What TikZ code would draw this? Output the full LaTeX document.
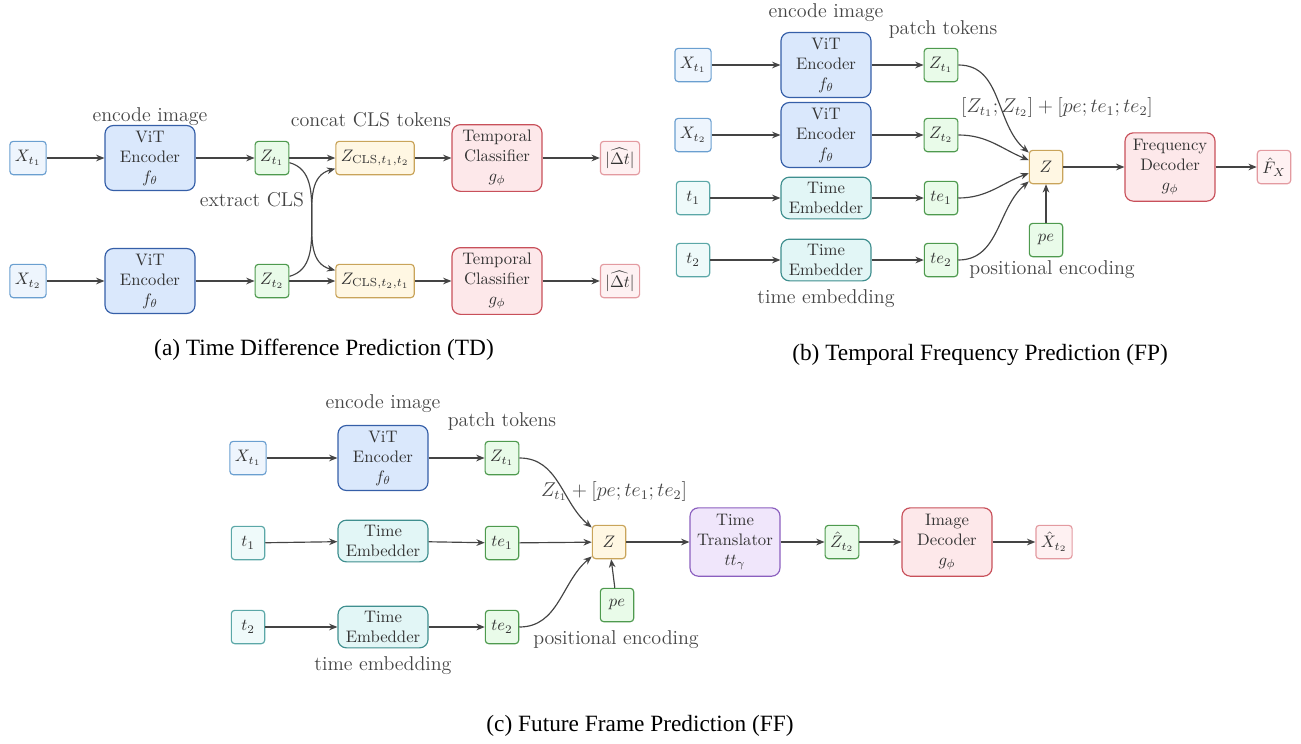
\documentclass[tikz,border=0pt]{standalone}
\usepackage{fontspec}
\newfontfamily\capfont{Liberation Serif}
\usetikzlibrary{arrows.meta}

\definecolor{txt}{HTML}{333333}
\definecolor{lin}{HTML}{444444}
\definecolor{inF}{HTML}{EEF5FD}\definecolor{inD}{HTML}{6A9FD0}
\definecolor{vitF}{HTML}{DAE8FC}\definecolor{vitD}{HTML}{355FA8}
\definecolor{tokF}{HTML}{E9FBE9}\definecolor{tokD}{HTML}{4E9A4E}
\definecolor{clsF}{HTML}{FFF7E3}\definecolor{clsD}{HTML}{C9A45A}
\definecolor{decF}{HTML}{FDE8EA}\definecolor{decD}{HTML}{C8505A}
\definecolor{outF}{HTML}{FEF1F2}\definecolor{outD}{HTML}{E39AA0}
\definecolor{tF}{HTML}{EFFAFA}\definecolor{tD}{HTML}{5BA7A7}
\definecolor{embF}{HTML}{E2F6F6}\definecolor{embD}{HTML}{3F8F8F}
\definecolor{trF}{HTML}{F0E6FB}\definecolor{trD}{HTML}{8B5FBF}

\begin{document}
\begin{tikzpicture}[x=0.6pt,y=-0.6pt,
    small/.style={draw, line width=0.7pt, rounded corners=2pt, minimum width=20pt,
        minimum height=20pt, inner sep=3pt, text=txt},
    large/.style={draw, line width=0.7pt, rounded corners=5pt, minimum width=54pt,
        align=center, inner sep=2pt, text=txt},
    inbox/.style={small, fill=inF, draw=inD},
    tokbox/.style={small, fill=tokF, draw=tokD},
    clsbox/.style={small, fill=clsF, draw=clsD},
    outbox/.style={small, fill=outF, draw=outD},
    tbox/.style={small, fill=tF, draw=tD},
    vitbox/.style={large, fill=vitF, draw=vitD, minimum height=39pt},
    decbox/.style={large, fill=decF, draw=decD, minimum height=40pt},
    embbox/.style={large, fill=embF, draw=embD, minimum height=25pt},
    trbox/.style={large, fill=trF, draw=trD, minimum height=41pt},
    lbl/.style={text=lin, font=\large},
    arr/.style={-{Stealth[length=5pt,width=4pt]}, line width=0.7pt, draw=lin}]
    \useasboundingbox (0,0) rectangle (1301,743);

    % (a) time difference
    \begin{scope}[shift={(28,0)}]
        \node[inbox] (xa) at (0,158) {$X_{t_1}$};
        \node[vitbox] (enca) at (122,158) {ViT\\Encoder\\$f_\theta$};
        \node[tokbox] (za) at (244,158) {$Z_{t_1}$};
        \node[clsbox] (clsa) at (347,158) {$Z_{\mathrm{CLS},t_1,t_2}$};
        \node[decbox] (tca) at (469,158) {Temporal\\Classifier\\$g_\phi$};
        \node[outbox] (oa) at (592,158) {$|\widehat{\Delta t}|$};

        \node[inbox] (xb) at (0,281) {$X_{t_2}$};
        \node[vitbox] (encb) at (122,281) {ViT\\Encoder\\$f_\theta$};
        \node[tokbox] (zb) at (244,281) {$Z_{t_2}$};
        \node[clsbox] (clsb) at (347,281) {$Z_{\mathrm{CLS},t_2,t_1}$};
        \node[decbox] (tcb) at (469,281) {Temporal\\Classifier\\$g_\phi$};
        \node[outbox] (ob) at (592,281) {$|\widehat{\Delta t}|$};

        \draw[arr] (xa)--(enca); \draw[arr] (enca)--(za); \draw[arr] (za)--(clsa);
        \draw[arr] (clsa)--(tca); \draw[arr] (tca)--(oa);
        \draw[arr] (xb)--(encb); \draw[arr] (encb)--(zb); \draw[arr] (zb)--(clsb);
        \draw[arr] (clsb)--(tcb); \draw[arr] (tcb)--(ob);
        \draw[arr] (za) to[out=-15,in=165] (clsb);
        \draw[arr] (zb) to[out=15,in=195] (clsa);

        \node[lbl] (la) at (122,117) {encode image};
        \node[lbl] (lb) at (343,120) {concat CLS tokens};
        \node[lbl] (lc) at (224,200) {extract CLS};
        \node[font=\capfont\fontsize{14}{16}\selectfont] (capa) at (296,350)
            {(a) Time Difference Prediction (TD)};
    \end{scope}

    % (b) frequency
    \begin{scope}[shift={(693,0)}]
        \node[inbox] (xa) at (0,65) {$X_{t_1}$};
        \node[vitbox] (enca) at (133,65) {ViT\\Encoder\\$f_\theta$};
        \node[tokbox] (za) at (248,65) {$Z_{t_1}$};
        \node[inbox] (xb) at (0,135) {$X_{t_2}$};
        \node[vitbox] (encb) at (133,135) {ViT\\Encoder\\$f_\theta$};
        \node[tokbox] (zb) at (248,135) {$Z_{t_2}$};
        \node[tbox] (ta) at (0,198) {$t_1$};
        \node[embbox] (emba) at (133,198) {Time\\Embedder};
        \node[tokbox] (tea) at (248,198) {$te_1$};
        \node[tbox] (tb) at (0,260) {$t_2$};
        \node[embbox] (embb) at (133,260) {Time\\Embedder};
        \node[tokbox] (teb) at (248,260) {$te_2$};
        \node[clsbox] (z) at (353,167) {$Z$};
        \node[tokbox] (pe) at (353,240) {$pe$};
        \node[decbox, minimum height=41pt] (fd) at (477,167) {Frequency\\Decoder\\$g_\phi$};
        \node[outbox] (fx) at (581,167) {$\hat{F}_X$};

        \draw[arr] (xa)--(enca); \draw[arr] (enca)--(za);
        \draw[arr] (xb)--(encb); \draw[arr] (encb)--(zb);
        \draw[arr] (ta)--(emba); \draw[arr] (emba)--(tea);
        \draw[arr] (tb)--(embb); \draw[arr] (embb)--(teb);
        \draw[arr] (za) to[out=0,in=140] (z);
        \draw[arr] (zb) to[out=0,in=158] (z);
        \draw[arr] (tea) to[out=0,in=200] (z);
        \draw[arr] (teb) to[out=0,in=220] (z);
        \draw[arr] (pe)--(z); \draw[arr] (z)--(fd); \draw[arr] (fd)--(fx);

        \node[lbl] (la) at (133,13) {encode image};
        \node[lbl] (lb) at (250,29) {patch tokens};
        \node[lbl] (lc) at (364,107) {$[Z_{t_1};Z_{t_2}]+[pe;te_1;te_2]$};
        \node[lbl] (ld) at (359,270) {positional encoding};
        \node[lbl] (le) at (133,299) {time embedding};
        \node[font=\capfont\fontsize{14}{16}\selectfont] (capb) at (287,355)
            {(b) Temporal Frequency Prediction (FP)};
    \end{scope}

    % (c) future frame
    \begin{scope}[shift={(248,0)}]
        \node[inbox] (xa) at (0,458) {$X_{t_1}$};
        \node[vitbox] (enca) at (135,458) {ViT\\Encoder\\$f_\theta$};
        \node[tokbox] (za) at (254,458) {$Z_{t_1}$};
        \node[tbox] (ta) at (0,543) {$t_1$};
        \node[embbox] (emba) at (135,541) {Time\\Embedder};
        \node[tokbox] (tea) at (254,543) {$te_1$};
        \node[tbox] (tb) at (0,627) {$t_2$};
        \node[embbox] (embb) at (135,627) {Time\\Embedder};
        \node[tokbox] (teb) at (254,627) {$te_2$};
        \node[clsbox] (z) at (361,542) {$Z$};
        \node[tokbox] (pe) at (369,605) {$pe$};
        \node[trbox] (tt) at (487,542) {Time\\Translator\\$tt_\gamma$};
        \node[tokbox] (zh) at (594,542) {$\hat{Z}_{t_2}$};
        \node[decbox, minimum height=41pt] (id) at (699,542) {Image\\Decoder\\$g_\phi$};
        \node[outbox] (xh) at (806,542) {$\hat{X}_{t_2}$};

        \draw[arr] (xa)--(enca); \draw[arr] (enca)--(za);
        \draw[arr] (ta)--(emba); \draw[arr] (emba)--(tea);
        \draw[arr] (tb)--(embb); \draw[arr] (embb)--(teb);
        \draw[arr] (za) to[out=0,in=140] (z);
        \draw[arr] (tea)--(z);
        \draw[arr] (teb) to[out=0,in=220] (z);
        \draw[arr] (pe)--(z); \draw[arr] (z)--(tt); \draw[arr] (tt)--(zh);
        \draw[arr] (zh)--(id); \draw[arr] (id)--(xh);

        \node[lbl] (la) at (135,404) {encode image};
        \node[lbl] (lb) at (254,421) {patch tokens};
        \node[lbl] (lc) at (366,491) {$Z_{t_1}+[pe;te_1;te_2]$};
        \node[lbl] (ld) at (368,640) {positional encoding};
        \node[lbl] (le) at (135,666) {time embedding};
        \node[font=\capfont\fontsize{14}{16}\selectfont] (capc) at (392,726)
            {(c) Future Frame Prediction (FF)};
    \end{scope}
\end{tikzpicture}
\end{document}
